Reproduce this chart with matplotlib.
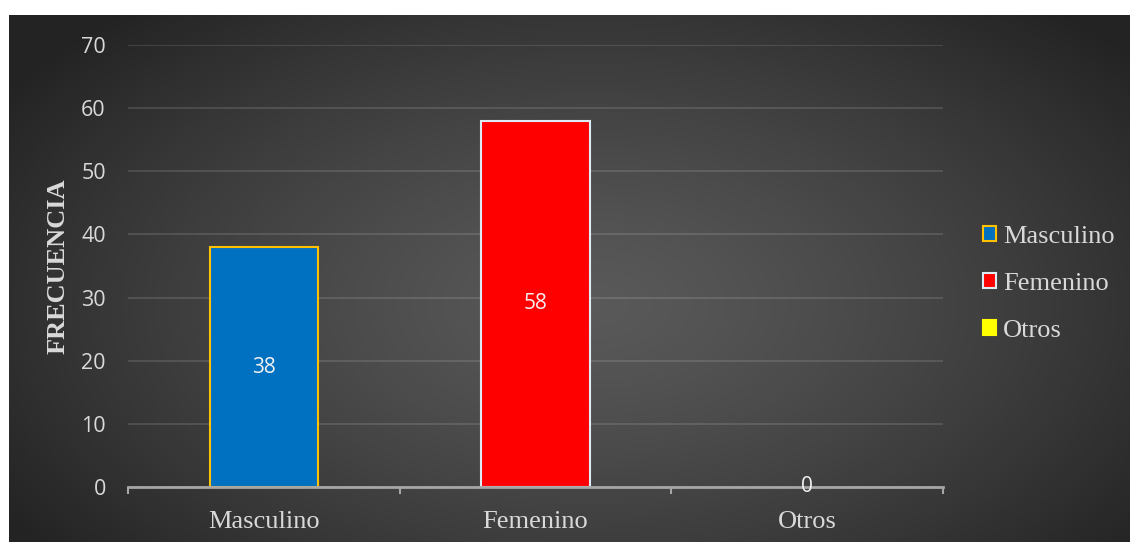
import numpy as np
import matplotlib.pyplot as plt
from matplotlib.patches import Patch

# data
categories = ["Masculino", "Femenino", "Otros"]
values = [38, 58, 0]
bar_colors = ["#0070C0", "#FF0000", "#FFFF00"]
edge_colors = ["#FFC000", "#DDEBF7", "#FFFF00"]
y_ticks = [0, 10, 20, 30, 40, 50, 60, 70]

W, H = 1131, 542
fig = plt.figure(figsize=(W / 100, H / 100), dpi=100)
fig.patch.set_facecolor("white")

# dark panel with radial gradient
bg = fig.add_axes([9 / W, 0, (1130 - 9) / W, (H - 15) / H])
bg.set_axis_off()
yy, xx = np.mgrid[0:1:300j, 0:1:600j]
r = np.sqrt(((xx - 0.52) / 0.62) ** 2 + ((yy - 0.55) / 0.75) ** 2)
r = np.clip(r, 0, 1)
shade = 0.35 - 0.21 * r ** 1.3
img = np.dstack([shade, shade, shade])
bg.imshow(img, aspect="auto", extent=[0, 1, 0, 1], interpolation="bilinear")
bg.set_xlim(0, 1)
bg.set_ylim(0, 1)

ax = fig.add_axes([128 / W, 55 / H, 815 / W, 442 / H])
ax.patch.set_alpha(0)
x = np.arange(len(categories))
line_widths = [1.5 if v > 0 else 0 for v in values]
bars = ax.bar(x, values, width=0.4, color=bar_colors, edgecolor=edge_colors,
              linewidth=line_widths, zorder=3)
ax.bar_label(bars, labels=[str(v) for v in values], label_type="center",
             color="#f2f2f2", fontsize=15, family="Open Sans", zorder=6)

ax.set_xlim(-0.5, 2.5)
ax.set_ylim(0, 70)
ax.set_yticks(y_ticks)
ax.yaxis.grid(True, color="white", alpha=0.12, linewidth=1.5, zorder=0)
ax.set_xticks(x)
ax.set_xticklabels(categories, family="Liberation Serif", fontsize=19,
                   color="#d9d9d9")
ax.set_xticks([-0.5, 0.5, 1.5, 2.5], minor=True)
ax.tick_params(axis="x", which="major", length=0, pad=17)
ax.tick_params(axis="x", which="minor", length=5, width=1.5, color="#a6a6a6",
               direction="out")
ax.tick_params(axis="y", length=0, pad=16, labelsize=15.5, labelcolor="#d9d9d9")
for t in ax.get_yticklabels():
    t.set_family("Open Sans")

for s in ["top", "right", "left"]:
    ax.spines[s].set_visible(False)
ax.spines["bottom"].set_color("#a6a6a6")
ax.spines["bottom"].set_linewidth(2)
ax.spines["bottom"].set_zorder(5)

ax.set_ylabel("FRECUENCIA", family="Liberation Serif", fontweight="bold",
              fontsize=19, color="#d9d9d9", va="center")
ax.yaxis.set_label_coords(-0.086, 0.5)

handles = [Patch(facecolor=c, edgecolor=e, linewidth=1.5)
           for c, e in zip(bar_colors, edge_colors)]
leg = fig.legend(handles, categories, loc="center left",
                 bbox_to_anchor=(983 / W, 1 - 284 / H), frameon=False,
                 prop={"family": "Liberation Serif", "size": 19},
                 handlelength=0.5, handleheight=0.5, handletextpad=0.25,
                 labelspacing=0.95, borderpad=0, borderaxespad=0)
for t in leg.get_texts():
    t.set_color("#d9d9d9")

fig.savefig("out.png", dpi=100, facecolor="white")
